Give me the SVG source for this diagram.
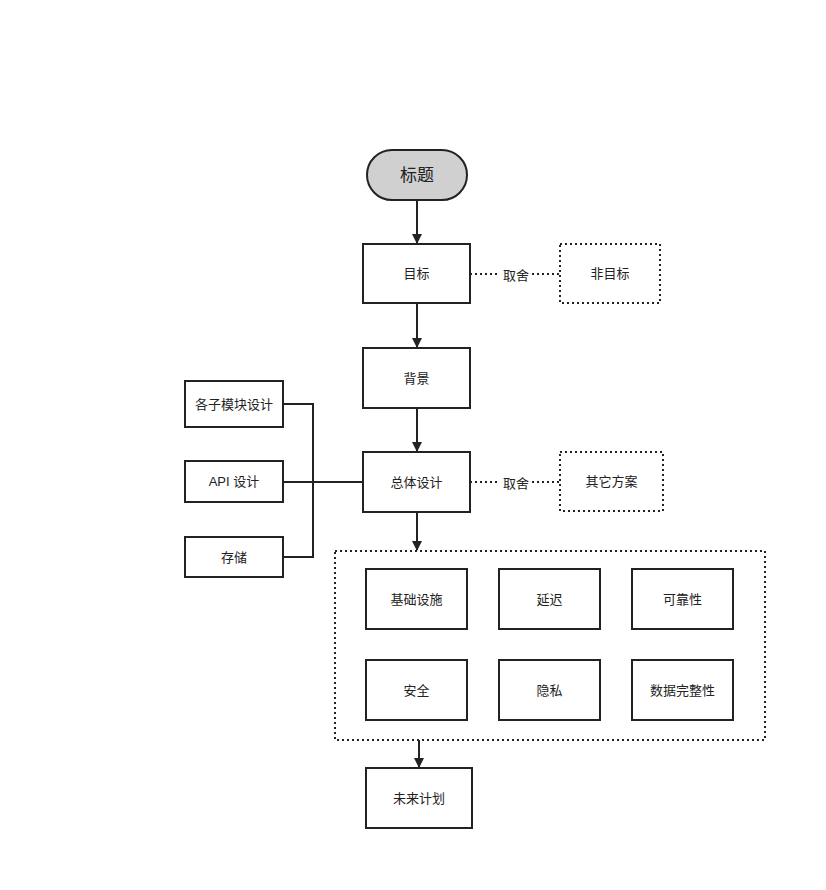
<svg xmlns="http://www.w3.org/2000/svg" width="826" height="890" viewBox="0 0 826 890">
<style>
.box{fill:#fff;stroke:#222;stroke-width:2}
.dbox{fill:#fff;stroke:#222;stroke-width:2;stroke-dasharray:2 3}
.t{font-family:"Liberation Sans","Noto Sans CJK SC",sans-serif;font-size:13px;fill:#222;text-anchor:middle;dominant-baseline:central}
.ln{fill:none;stroke:#222;stroke-width:2}
.dl{fill:none;stroke:#222;stroke-width:2;stroke-dasharray:2 3}
</style>
<defs>
<marker id="ah" markerWidth="10" markerHeight="10" refX="9" refY="5" orient="auto" markerUnits="userSpaceOnUse">
<path d="M0,0 L10,5 L0,10 z" fill="#222"/>
</marker>
</defs>
<rect width="826" height="890" fill="#fff"/>
<g id="connectors">
<line class="ln" x1="417" y1="200" x2="417" y2="243" marker-end="url(#ah)"/>
<line class="ln" x1="417" y1="303" x2="417" y2="347" marker-end="url(#ah)"/>
<line class="ln" x1="417" y1="408" x2="417" y2="451" marker-end="url(#ah)"/>
<line class="ln" x1="417" y1="512" x2="417" y2="550" marker-end="url(#ah)"/>
<line class="ln" x1="419" y1="740" x2="419" y2="767" marker-end="url(#ah)"/>
<line class="dl" x1="470" y1="274" x2="500" y2="274"/>
<line class="dl" x1="532" y1="274" x2="560" y2="274"/>
<line class="dl" x1="470" y1="482" x2="500" y2="482"/>
<line class="dl" x1="532" y1="482" x2="560" y2="482"/>
<text class="t" x="516" y="275">取舍</text>
<text class="t" x="516" y="483">取舍</text>
<polyline class="ln" points="283,404 313,404 313,557 283,557"/>
<line class="ln" x1="283" y1="482" x2="363" y2="482"/>
</g>
<g id="title">
<rect x="367" y="150" width="100" height="50" rx="25" fill="#d0d0d0" stroke="#222" stroke-width="2"/>
<text class="t" x="417" y="175" style="font-size:17px">标题</text>
</g>
<g id="goal"><rect class="box" x="363" y="244" width="107" height="59"/><text class="t" x="416.5" y="273.5">目标</text></g>
<g id="nongoal"><rect class="dbox" x="560" y="244" width="100" height="59"/><text class="t" x="610" y="273.5">非目标</text></g>
<g id="background"><rect class="box" x="363" y="348" width="107" height="60"/><text class="t" x="416.5" y="378">背景</text></g>
<g id="overall"><rect class="box" x="363" y="452" width="107" height="60"/><text class="t" x="416.5" y="482">总体设计</text></g>
<g id="alternatives"><rect class="dbox" x="560" y="452" width="103" height="59"/><text class="t" x="611.5" y="481.5">其它方案</text></g>
<g id="modules"><rect class="box" x="185" y="381" width="98" height="46"/><text class="t" x="234" y="404">各子模块设计</text></g>
<g id="api"><rect class="box" x="185" y="461" width="98" height="41"/><text class="t" x="234" y="481.5">API 设计</text></g>
<g id="storage"><rect class="box" x="185" y="537" width="98" height="40"/><text class="t" x="234" y="557">存储</text></g>
<g id="container"><rect class="dbox" x="335" y="551" width="430" height="189" fill="none"/></g>
<g id="infra"><rect class="box" x="366" y="569" width="101" height="60"/><text class="t" x="416.5" y="599">基础设施</text></g>
<g id="latency"><rect class="box" x="499" y="569" width="101" height="60"/><text class="t" x="549.5" y="599">延迟</text></g>
<g id="reliability"><rect class="box" x="632" y="569" width="101" height="60"/><text class="t" x="682.5" y="599">可靠性</text></g>
<g id="security"><rect class="box" x="366" y="660" width="101" height="60"/><text class="t" x="416.5" y="690">安全</text></g>
<g id="privacy"><rect class="box" x="499" y="660" width="101" height="60"/><text class="t" x="549.5" y="690">隐私</text></g>
<g id="integrity"><rect class="box" x="632" y="660" width="101" height="60"/><text class="t" x="682.5" y="690">数据完整性</text></g>
<g id="future"><rect class="box" x="366" y="768" width="106" height="60"/><text class="t" x="419" y="798">未来计划</text></g>
</svg>
